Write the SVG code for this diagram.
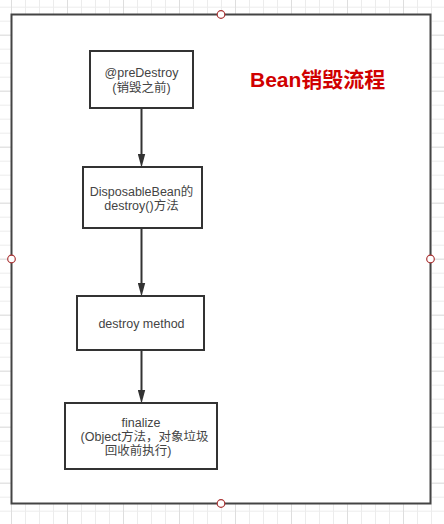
<svg xmlns="http://www.w3.org/2000/svg" width="444" height="524" viewBox="0 0 444 524">
<defs>
<pattern id="minor" x="11" y="6.7" width="14" height="14" patternUnits="userSpaceOnUse">
<path d="M0.5,0 V14 M0,0.5 H14" stroke="#ececec" stroke-width="1" fill="none"/>
</pattern>
<pattern id="major" x="11" y="34.7" width="56" height="56" patternUnits="userSpaceOnUse">
<path d="M0.5,0 V56 M0,0.5 H56" stroke="#dedede" stroke-width="1" fill="none"/>
</pattern>
<marker id="arr" markerUnits="userSpaceOnUse" markerWidth="14" markerHeight="8" viewBox="0 0 13 7" refX="3" refY="3.5" orient="auto">
<path d="M0,0 L13,3.5 L0,7 z" fill="#333"/>
</marker>
<style>
.node{fill:#fff;stroke:#333;stroke-width:2}
.t{font-family:"Liberation Sans","Noto Sans CJK SC",sans-serif;font-size:12.5px;fill:#444;text-anchor:middle}
.edge{stroke:#333;stroke-width:2;fill:none;marker-end:url(#arr)}
.pt{fill:#fff;stroke:#a33;stroke-width:1.2}
</style>
</defs>
<rect width="444" height="524" fill="#fff"/>
<rect width="444" height="524" fill="url(#minor)"/>
<rect width="444" height="524" fill="url(#major)"/>
<g id="container">
<rect x="11.5" y="14.5" width="419" height="489" fill="#fff" stroke="#444" stroke-width="2"/>
<circle class="pt" cx="221" cy="14.5" r="3.8"/>
<circle class="pt" cx="11.5" cy="259" r="3.8"/>
<circle class="pt" cx="430.5" cy="259" r="3.8"/>
<circle class="pt" cx="221" cy="503.5" r="3.8"/>
</g>
<g id="title">
<text x="250" y="87" font-family="'Liberation Sans','Noto Sans CJK SC',sans-serif" font-size="21" font-weight="bold" fill="#d00000">Bean销毁流程</text>
</g>
<g id="connectors">
<line class="edge" x1="141.5" y1="108" x2="141.5" y2="157"/>
<line class="edge" x1="141.5" y1="228" x2="141.5" y2="286"/>
<line class="edge" x1="141.5" y1="350" x2="141.5" y2="393"/>
</g>
<g id="n1">
<rect class="node" x="90" y="51" width="103" height="57"/>
<text class="t" x="141.5" y="77">@preDestroy</text>
<text class="t" x="141.5" y="91.5">(销毁之前)</text>
</g>
<g id="n2">
<rect class="node" x="83" y="167" width="119" height="61"/>
<text class="t" x="141.5" y="196">DisposableBean的</text>
<text class="t" x="141.5" y="210">destroy()方法</text>
</g>
<g id="n3">
<rect class="node" x="77" y="296" width="127" height="54"/>
<text class="t" x="141.5" y="327.5">destroy method</text>
</g>
<g id="n4">
<rect class="node" x="65" y="403" width="152" height="66"/>
<text class="t" x="141" y="427">finalize</text>
<text class="t" x="144.5" y="441">(Object方法，对象垃圾</text>
<text class="t" x="138" y="455">回收前执行)</text>
</g>
</svg>
